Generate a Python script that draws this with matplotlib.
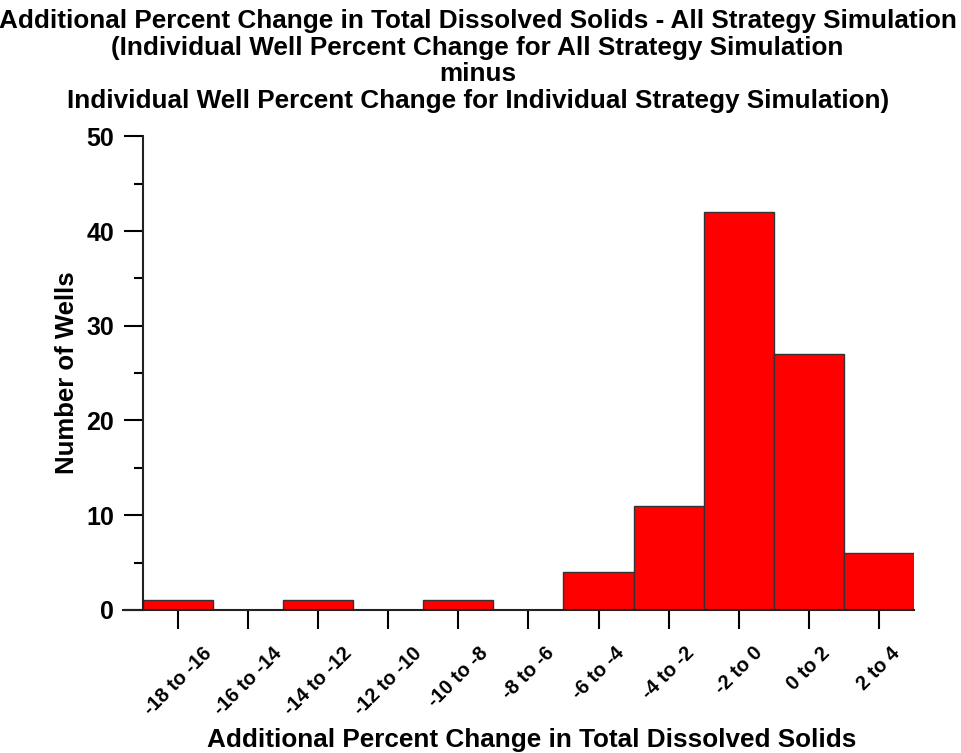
import matplotlib.pyplot as plt
import numpy as np

plt.rcParams['font.family'] = ['Liberation Sans', 'DejaVu Sans']
plt.rcParams['font.weight'] = 'bold'

bins = ["-18 to -16", "-16 to -14", "-14 to -12", "-12 to -10", "-10 to -8",
        "-8 to -6", "-6 to -4", "-4 to -2", "-2 to 0", "0 to 2", "2 to 4"]
counts = [1, 0, 1, 0, 1, 0, 4, 11, 42, 27, 6]

fig = plt.figure(figsize=(9.61, 7.53), dpi=100)
ax = fig.add_axes([0.128, 0.19, 0.823, 0.629])

x = np.arange(len(bins))
ax.bar(x, counts, width=1.0, color="#ff0000", edgecolor="#333333", linewidth=1.0)

ax.set_xlim(-0.785, len(bins) - 0.5)
ax.set_ylim(0, 50)
ax.spines['left'].set_position(('data', -0.5))
ax.spines['left'].set_bounds(0, 50)
ax.spines['right'].set_visible(False)
ax.spines['top'].set_visible(False)
for s in ['left', 'bottom']:
    ax.spines[s].set_linewidth(1.5)
    ax.spines[s].set_color("#222222")

ax.set_yticks([0, 10, 20, 30, 40, 50])
ax.set_yticks([5, 15, 25, 35, 45], minor=True)
ax.tick_params(axis='y', which='major', length=13.7, width=1.5, labelsize=18, pad=7)
ax.tick_params(axis='y', which='minor', length=6.5, width=1.5)
ax.set_xticks(x)
ax.set_xticklabels(bins, rotation=45)
ax.tick_params(axis='x', length=14, width=1.5, labelsize=14.4, pad=10)

ax.set_ylabel("Number of Wells", fontsize=18.5, fontweight='bold')
ax.yaxis.set_label_coords(-0.056, 0.5)
ax.set_xlabel("Additional Percent Change in Total Dissolved Solids",
              fontsize=18.8, fontweight='bold')
ax.xaxis.set_label_coords(0.517, -0.25)

fig.text(0.497, 0.988,
         "Additional Percent Change in Total Dissolved Solids - All Strategy Simulation\n"
         "(Individual Well Percent Change for All Strategy Simulation\n"
         "minus\n"
         "Individual Well Percent Change for Individual Strategy Simulation)",
         ha='center', va='top', fontsize=18.8, fontweight='bold', linespacing=1.14)

fig.savefig("out.png", dpi=100)
